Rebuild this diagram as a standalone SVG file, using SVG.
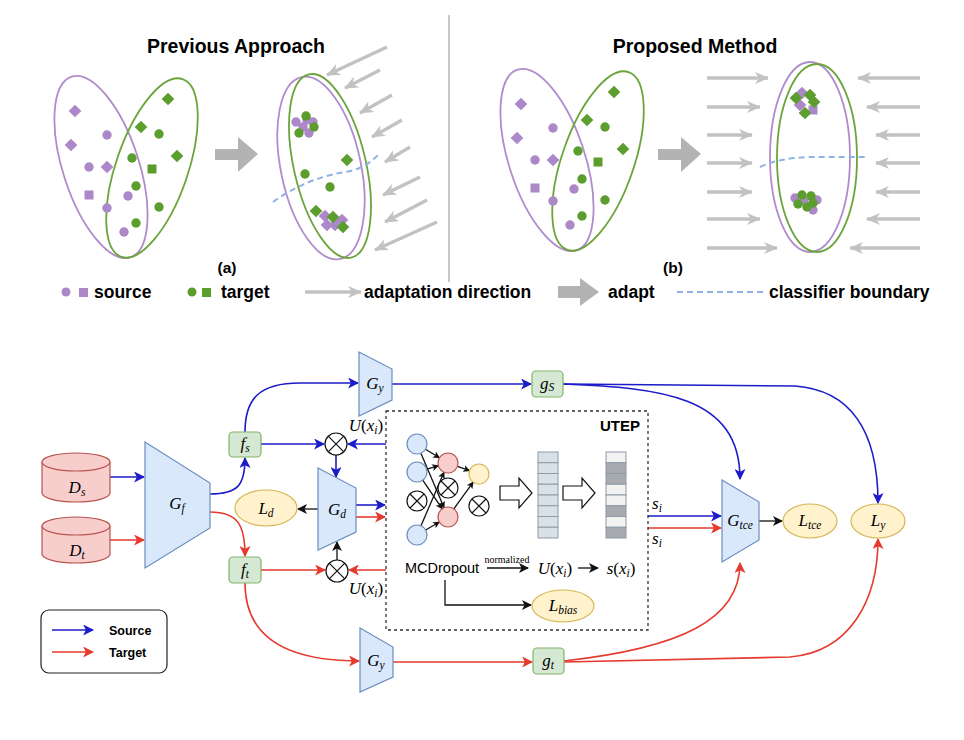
<svg xmlns="http://www.w3.org/2000/svg" xmlns:xlink="http://www.w3.org/1999/xlink" width="964" height="740" viewBox="0 0 964 740">
<style>
.t{font-family:"Liberation Sans",Arial,sans-serif;font-weight:bold;fill:#000}
.m{font-family:"Liberation Serif","DejaVu Serif",serif;font-size:17px;fill:#000;font-style:italic}
.up{font-style:normal}
.sb{font-size:11.5px}
.pf{fill:#ac88c8}
.gf{fill:#5c9e2e}
.pe{fill:none;stroke:#b08ccb;stroke-width:1.8}
.ge{fill:none;stroke:#6aa43a;stroke-width:1.8}
.ga{fill:none;stroke:#c2c2c2;stroke-width:3.4;marker-end:url(#gh)}
.cb{fill:none;stroke:#1c1cc8;stroke-width:1.6}
.cr{fill:none;stroke:#e53a2e;stroke-width:1.6}
.ck{fill:none;stroke:#111;stroke-width:1.3}
.blu{fill:#dae8fc;stroke:#6c8ebf;stroke-width:1.2}
.grn{fill:#d5e8d4;stroke:#82b366;stroke-width:1.2}
.red{fill:#f8cecc;stroke:#b85450;stroke-width:1.2}
.yel{fill:#fff2cc;stroke:#d6b656;stroke-width:1.2}
.ox{fill:#fff;stroke:#111;stroke-width:1.2}
.dash{fill:none;stroke:#8fb1e3;stroke-width:2;stroke-dasharray:6 4}
</style>
<defs>
<marker id="gh" viewBox="0 0 14 12" refX="13" refY="6" markerWidth="14" markerHeight="12" markerUnits="userSpaceOnUse" orient="auto"><path d="M0,0 L14,6 L0,12 L4,6z" fill="#c2c2c2"/></marker>
<marker id="hb" viewBox="0 0 10 10" refX="9" refY="5" markerWidth="11" markerHeight="11" markerUnits="userSpaceOnUse" orient="auto"><path d="M0,0 L10,5 L0,10 L2.5,5z" fill="#1c1cc8"/></marker>
<marker id="hr" viewBox="0 0 10 10" refX="9" refY="5" markerWidth="11" markerHeight="11" markerUnits="userSpaceOnUse" orient="auto"><path d="M0,0 L10,5 L0,10 L2.5,5z" fill="#e53a2e"/></marker>
<marker id="hk" viewBox="0 0 10 10" refX="9" refY="5" markerWidth="10" markerHeight="10" markerUnits="userSpaceOnUse" orient="auto"><path d="M0,0 L10,5 L0,10 L2.5,5z" fill="#111"/></marker>
<marker id="hs" viewBox="0 0 10 10" refX="9" refY="5" markerWidth="7" markerHeight="7" markerUnits="userSpaceOnUse" orient="auto"><path d="M0,0 L10,5 L0,10 L2.5,5z" fill="#111"/></marker>
<rect id="dm" x="-4.5" y="-4.5" width="9" height="9" transform="rotate(45)"/>
<rect id="sq" x="-4.5" y="-4.5" width="9" height="9"/>
<circle id="ci" r="4.7"/>
<g id="ox"><circle class="ox" r="11"/><path d="M-7.8,-7.8 L7.8,7.8 M7.8,-7.8 L-7.8,7.8" stroke="#111" stroke-width="1.2"/></g>
<g id="oxs"><circle class="ox" r="10"/><path d="M-7,-7 L7,7 M7,-7 L-7,7" stroke="#111" stroke-width="1.2"/></g>
<g id="scat">
<ellipse class="pe" cx="101" cy="167" rx="38" ry="95" transform="rotate(-18 101 167)"/>
<ellipse class="ge" cx="152" cy="168" rx="36" ry="94" transform="rotate(19 152 168)"/>
<g class="pf">
<use xlink:href="#dm" x="75" y="111"/><use xlink:href="#dm" x="71" y="145"/><use xlink:href="#dm" x="107" y="167"/>
<use xlink:href="#sq" x="89" y="195"/>
<use xlink:href="#ci" x="107" y="135"/><use xlink:href="#ci" x="89" y="167"/><use xlink:href="#ci" x="128" y="196"/><use xlink:href="#ci" x="107" y="208"/><use xlink:href="#ci" x="124" y="232"/>
</g>
<g class="gf">
<use xlink:href="#dm" x="168" y="99"/><use xlink:href="#dm" x="141" y="127"/><use xlink:href="#dm" x="177" y="156"/>
<use xlink:href="#sq" x="152" y="169"/>
<use xlink:href="#ci" x="159" y="134"/><use xlink:href="#ci" x="132" y="158"/><use xlink:href="#ci" x="136" y="186"/><use xlink:href="#ci" x="159" y="207"/><use xlink:href="#ci" x="136" y="223"/>
</g>
</g>
</defs>
<rect width="964" height="740" fill="#fff"/>

<!-- top panels -->
<g id="top">
<text class="t" x="236" y="53" font-size="19.5" text-anchor="middle">Previous Approach</text>
<text class="t" x="695" y="53" font-size="19.5" text-anchor="middle">Proposed Method</text>
<line x1="449" y1="15" x2="449" y2="282" stroke="#c8c8c8" stroke-width="2"/>

<use xlink:href="#scat"/>
<polygon points="215,149 238,149 238,137 258,154 238,172 238,160 215,160" fill="#b3b3b3"/>

<g id="panelA-after">
<ellipse class="pe" cx="321" cy="168" rx="40" ry="93" transform="rotate(-12 321 168)"/>
<ellipse class="ge" cx="330" cy="166" rx="36" ry="94" transform="rotate(-13 330 166)"/>
<g class="pf"><use xlink:href="#ci" x="296" y="122"/><use xlink:href="#ci" x="307" y="120"/><use xlink:href="#ci" x="313" y="122"/><use xlink:href="#ci" x="303" y="127"/><use xlink:href="#ci" x="309" y="133"/></g>
<g class="gf"><use xlink:href="#ci" x="306" y="116"/><use xlink:href="#ci" x="314" y="127"/><use xlink:href="#ci" x="299" y="133"/>
<use xlink:href="#dm" x="347" y="160"/><use xlink:href="#ci" x="305" y="174"/><use xlink:href="#ci" x="330" y="187"/>
<use xlink:href="#dm" x="316" y="211"/></g>
<g class="pf"><use xlink:href="#dm" x="325" y="216"/><use xlink:href="#dm" x="327" y="225"/><use xlink:href="#dm" x="335" y="225"/><use xlink:href="#dm" x="342" y="220"/></g>
<g class="gf"><use xlink:href="#dm" x="333" y="217"/><use xlink:href="#dm" x="343" y="227"/></g>
<path class="dash" d="M273,202 C295,186 320,176 345,172 C362,169 370,163 378,155"/>
<g>
<path class="ga" d="M387,47 L327,75"/><path class="ga" d="M380,70 L345,88"/><path class="ga" d="M392,95 L360,113"/><path class="ga" d="M402,120 L372,137"/>
<path class="ga" d="M410,147 L385,162"/><path class="ga" d="M420,177 L383,195"/><path class="ga" d="M427,200 L385,222"/><path class="ga" d="M437,222 L375,250"/>
</g>
</g>
<text class="t" x="227" y="273" font-size="15.5" text-anchor="middle">(a)</text>

<use xlink:href="#scat" transform="translate(446,-7)"/>
<polygon points="658,149 681,149 681,137 701,154 681,172 681,160 658,160" fill="#b3b3b3"/>

<g id="panelB-after">
<g>
<path class="ga" d="M707,78 H768"/><path class="ga" d="M707,107 H760"/><path class="ga" d="M707,135 H752"/><path class="ga" d="M707,163 H752"/>
<path class="ga" d="M707,192 H752"/><path class="ga" d="M707,219 H760"/><path class="ga" d="M707,248 H777"/>
<path class="ga" d="M920,78 H858"/><path class="ga" d="M920,107 H867"/><path class="ga" d="M920,135 H876"/><path class="ga" d="M920,163 H876"/>
<path class="ga" d="M920,192 H876"/><path class="ga" d="M920,219 H867"/><path class="ga" d="M920,248 H850"/>
</g>
<ellipse class="pe" cx="810" cy="157" rx="40" ry="95"/>
<ellipse class="ge" cx="817" cy="158" rx="40" ry="94"/>
<g class="pf"><use xlink:href="#dm" x="802" y="93"/><use xlink:href="#dm" x="800" y="105"/><use xlink:href="#sq" x="813" y="110"/></g>
<g class="gf"><use xlink:href="#dm" x="796" y="98"/><use xlink:href="#dm" x="810" y="95"/><use xlink:href="#dm" x="814" y="102"/><use xlink:href="#dm" x="805" y="113"/></g>
<g class="pf"><use xlink:href="#ci" x="795" y="198"/><use xlink:href="#ci" x="817" y="200"/><use xlink:href="#ci" x="813" y="210"/><use xlink:href="#ci" x="804" y="201"/></g>
<g class="gf"><use xlink:href="#ci" x="802" y="195"/><use xlink:href="#ci" x="811" y="196"/><use xlink:href="#ci" x="798" y="204"/><use xlink:href="#ci" x="807" y="207"/><use xlink:href="#ci" x="813" y="203"/></g>
<path class="dash" d="M760,167 C775,160 790,158 810,157 L868,157"/>
</g>
<text class="t" x="673" y="273" font-size="15.5" text-anchor="middle">(b)</text>

<g id="legend-top">
<circle class="pf" cx="66" cy="292" r="4.5"/><rect class="pf" x="79" y="288" width="9" height="9"/>
<text class="t" x="94" y="298" font-size="17.5">source</text>
<circle class="gf" cx="192" cy="292" r="4.5"/><rect class="gf" x="202" y="288" width="9" height="9"/>
<text class="t" x="221" y="298" font-size="17.5">target</text>
<path class="ga" d="M305,292 H361"/>
<text class="t" x="364" y="298" font-size="17.5">adaptation direction</text>
<polygon points="558,286 580,286 580,278 599,292 580,306 580,298 558,298" fill="#b3b3b3"/>
<text class="t" x="608" y="298" font-size="17.5">adapt</text>
<path class="dash" d="M677,292 H766"/>
<text class="t" x="769" y="298" font-size="17.5">classifier boundary</text>
</g>
</g>

<!-- connectors -->
<g id="connectors">
<path class="cb" d="M110,477 H144" marker-end="url(#hb)"/>
<path class="cr" d="M110,540 H144" marker-end="url(#hr)"/>
<path class="cb" d="M210,494 C238,494 245,485 245,458" marker-end="url(#hb)"/>
<path class="cr" d="M210,512 C238,512 245,525 245,556" marker-end="url(#hr)"/>
<path class="cb" d="M245,432 C245,398 260,383 300,383 L358,383" marker-end="url(#hb)"/>
<path class="cb" d="M392,384 H531" stroke-width="2" marker-end="url(#hb)"/>
<path class="cb" d="M563,384 C660,388 740,395 740,479" marker-end="url(#hb)"/>
<path class="cb" d="M563,384 L795,386 C850,390 878,430 878,503" marker-end="url(#hb)"/>
<path class="cb" d="M261,444 H324" marker-end="url(#hb)"/>
<path class="cb" d="M386,444 H348" marker-end="url(#hb)"/>
<path class="cb" d="M336,455 V477" marker-end="url(#hb)"/>
<path class="ck" d="M318,509 H298" marker-end="url(#hk)"/>
<path class="cb" d="M356,505 H385" marker-end="url(#hb)"/>
<path class="cr" d="M356,517 H385" marker-end="url(#hr)"/>
<path class="cr" d="M261,570 H325" marker-end="url(#hr)"/>
<path class="cr" d="M386,570 H349" marker-end="url(#hr)"/>
<path class="ck" d="M337,560 V542" marker-end="url(#hk)"/>
<path class="cr" d="M245,583 C245,640 290,661 359,661" marker-end="url(#hr)"/>
<path class="cr" d="M393,662 H532" stroke-width="2" marker-end="url(#hr)"/>
<path class="cr" d="M564,661 C680,648 740,620 740,563" marker-end="url(#hr)"/>
<path class="cr" d="M564,662 L790,657 C850,652 878,600 878,539" marker-end="url(#hr)"/>
<path class="cb" d="M648,516 H721" marker-end="url(#hb)"/>
<path class="cr" d="M648,528 H721" marker-end="url(#hr)"/>
<path class="ck" d="M759,521 H782" marker-end="url(#hk)"/>
<path class="ck" d="M487,568 H528" marker-end="url(#hk)"/>
<path class="ck" d="M578,568 H598" marker-end="url(#hk)"/>
<path class="ck" d="M445,580 V605 H531" marker-end="url(#hk)"/>
<g stroke-width="1.1">
<path class="ck" d="M425.5,449.2 L439.5,457.8" marker-end="url(#hs)"/>
<path class="ck" d="M420.9,453.2 L444.1,507.8" marker-end="url(#hs)"/>
<path class="ck" d="M426.6,469.2 L438.4,465.8" marker-end="url(#hs)"/>
<path class="ck" d="M422.7,480.2 L442.3,508.8" marker-end="url(#hs)"/>
<path class="ck" d="M421,525.8 L444,472.2" marker-end="url(#hs)"/>
<path class="ck" d="M425.6,530 L439.4,522" marker-end="url(#hs)"/>
<path class="ck" d="M457.4,466.3 L469.6,470.7" marker-end="url(#hs)"/>
<path class="ck" d="M453.8,508.9 L473.2,482.1" marker-end="url(#hs)"/>
</g>
</g>

<!-- nodes -->
<g id="Ds"><path class="red" d="M42,462 A34,9 0 0,1 110,462 V493 A34,9 0 0,1 42,493 Z"/><path class="red" fill="none" d="M42,462 A34,9 0 0,0 110,462"/>
<text class="m" x="77" y="493" font-size="18" text-anchor="middle">D<tspan class="sb" dy="3">s</tspan></text></g>
<g id="Dt"><path class="red" d="M42,526 A34,9 0 0,1 110,526 V554 A34,9 0 0,1 42,554 Z"/><path class="red" fill="none" d="M42,526 A34,9 0 0,0 110,526"/>
<text class="m" x="77" y="556" font-size="18" text-anchor="middle">D<tspan class="sb" dy="3">t</tspan></text></g>
<g id="Gf"><polygon class="blu" points="145,442 210,483 210,528 145,568"/><text class="m" x="177" y="509" font-size="18" text-anchor="middle">G<tspan class="sb" dy="3">f</tspan></text></g>
<g id="fs"><rect class="grn" x="229" y="432" width="32" height="25" rx="4"/><text class="m" x="245" y="449" font-size="16" text-anchor="middle">f<tspan class="sb" dy="3">s</tspan></text></g>
<g id="ft"><rect class="grn" x="229" y="557" width="32" height="26" rx="4"/><text class="m" x="245" y="575" font-size="16" text-anchor="middle">f<tspan class="sb" dy="3">t</tspan></text></g>
<g id="Gy1"><polygon class="blu" points="359,352 392,369 392,400 359,416"/><text class="m" x="375" y="389" text-anchor="middle">G<tspan class="sb" dy="3">y</tspan></text></g>
<g id="gS"><rect class="grn" x="532" y="371" width="31" height="26" rx="4"/><text class="m" x="547" y="389" font-size="16" text-anchor="middle">g<tspan class="sb" dy="2">S</tspan></text></g>
<g id="mulTop"><use xlink:href="#ox" x="336" y="444"/>
<text class="m" x="366" y="431" font-size="16" text-anchor="middle">U<tspan class="up">(</tspan>x<tspan class="sb" dy="3">i</tspan><tspan class="up" dy="-3">)</tspan></text></g>
<g id="Gd"><polygon class="blu" points="318,468 356,488 356,532 318,550"/><text class="m" x="337" y="515" text-anchor="middle">G<tspan class="sb" dy="3">d</tspan></text></g>
<g id="Ld"><ellipse class="yel" cx="266" cy="508" rx="31" ry="18"/><text class="m" x="266" y="514" text-anchor="middle">L<tspan class="sb" dy="3">d</tspan></text></g>
<g id="mulBot"><use xlink:href="#ox" x="337" y="571"/>
<text class="m" x="366" y="594" font-size="16" text-anchor="middle">U<tspan class="up">(</tspan>x<tspan class="sb" dy="3">i</tspan><tspan class="up" dy="-3">)</tspan></text></g>

<g id="UTEP">
<rect x="386" y="411" width="262" height="219" fill="none" stroke="#333" stroke-width="1.3" stroke-dasharray="3 3"/>
<text class="t" x="640" y="431" font-size="15" text-anchor="end">UTEP</text>
<circle class="blu" cx="417" cy="444" r="10"/><circle class="blu" cx="417" cy="472" r="10"/><use xlink:href="#oxs" x="417" y="501"/><circle class="blu" cx="417" cy="535" r="10"/>
<circle class="red" cx="448" cy="463" r="10"/><use xlink:href="#oxs" x="448" y="488"/><circle class="red" cx="448" cy="517" r="10"/>
<circle class="yel" cx="479" cy="474" r="10"/><use xlink:href="#oxs" x="479" y="506"/>
<polygon points="500,486 519,486 519,478 532,493 519,508 519,500 500,500" fill="#fff" stroke="#111" stroke-width="1.2"/>
<polygon points="563,486 582,486 582,478 595,493 582,508 582,500 563,500" fill="#fff" stroke="#111" stroke-width="1.2"/>
<g fill="#d8e0e8" stroke="#8e9aa6" stroke-width="1">
<rect x="538" y="452" width="20" height="10.75"/><rect x="538" y="462.75" width="20" height="10.75"/><rect x="538" y="473.5" width="20" height="10.75"/><rect x="538" y="484.25" width="20" height="10.75"/>
<rect x="538" y="495" width="20" height="10.75"/><rect x="538" y="505.75" width="20" height="10.75"/><rect x="538" y="516.5" width="20" height="10.75"/><rect x="538" y="527.25" width="20" height="10.75"/>
</g>
<g stroke="#8e9aa6" stroke-width="1">
<rect x="606" y="452" width="20" height="10.75" fill="#f2f2f2"/><rect x="606" y="462.75" width="20" height="10.75" fill="#a7abb0"/><rect x="606" y="473.5" width="20" height="10.75" fill="#a7abb0"/><rect x="606" y="484.25" width="20" height="10.75" fill="#f2f2f2"/>
<rect x="606" y="495" width="20" height="10.75" fill="#f2f2f2"/><rect x="606" y="505.75" width="20" height="10.75" fill="#a7abb0"/><rect x="606" y="516.5" width="20" height="10.75" fill="#f2f2f2"/><rect x="606" y="527.25" width="20" height="10.75" fill="#a7abb0"/>
</g>
<text x="405" y="573" font-family="Liberation Sans,Arial,sans-serif" font-size="14.5" fill="#000">MCDropout</text>
<text x="507" y="563" font-family="Liberation Serif,serif" font-size="10" fill="#000" text-anchor="middle">normalized</text>
<text class="m" x="555" y="574" text-anchor="middle">U<tspan class="up">(</tspan>x<tspan class="sb" dy="3">i</tspan><tspan class="up" dy="-3">)</tspan></text>
<text class="m" x="621" y="574" text-anchor="middle">s<tspan class="up">(</tspan>x<tspan class="sb" dy="3">i</tspan><tspan class="up" dy="-3">)</tspan></text>
</g>
<g id="Lbias"><ellipse class="yel" cx="563" cy="606" rx="31" ry="16"/><text class="m" x="563" y="611" font-size="16" text-anchor="middle">L<tspan class="sb" dy="3">bias</tspan></text></g>
<g id="si"><text class="m" x="657" y="509" font-size="15" text-anchor="middle">s<tspan class="sb" dy="3">i</tspan></text>
<text class="m" x="657" y="544" font-size="15" text-anchor="middle">s<tspan class="sb" dy="3">i</tspan></text></g>
<g id="Gtce"><polygon class="blu" points="722,480 759,502 759,540 722,562"/><text class="m" x="740" y="526" font-size="16" text-anchor="middle">G<tspan class="sb" dy="3">tce</tspan></text></g>
<g id="Ltce"><ellipse class="yel" cx="810" cy="521" rx="27" ry="17"/><text class="m" x="810" y="526" text-anchor="middle">L<tspan class="sb" dy="3">tce</tspan></text></g>
<g id="Ly"><ellipse class="yel" cx="878" cy="521" rx="27" ry="17"/><text class="m" x="878" y="526" text-anchor="middle">L<tspan class="sb" dy="3">y</tspan></text></g>
<g id="Gy2"><polygon class="blu" points="360,628 393,647 393,677 360,692"/><text class="m" x="376" y="666" text-anchor="middle">G<tspan class="sb" dy="3">y</tspan></text></g>
<g id="gt"><rect class="grn" x="533" y="648" width="31" height="26" rx="4"/><text class="m" x="548" y="666" font-size="16" text-anchor="middle">g<tspan class="sb" dy="3">t</tspan></text></g>

<g id="legend">
<rect x="41" y="610" width="126" height="63" rx="8" fill="#fff" stroke="#222" stroke-width="1.2"/>
<path class="cb" d="M52,630 H93" marker-end="url(#hb)"/>
<path class="cr" d="M52,652 H93" marker-end="url(#hr)"/>
<text class="t" x="109" y="635" font-size="12.5">Source</text>
<text class="t" x="109" y="657" font-size="12.5">Target</text>
</g>
</svg>
